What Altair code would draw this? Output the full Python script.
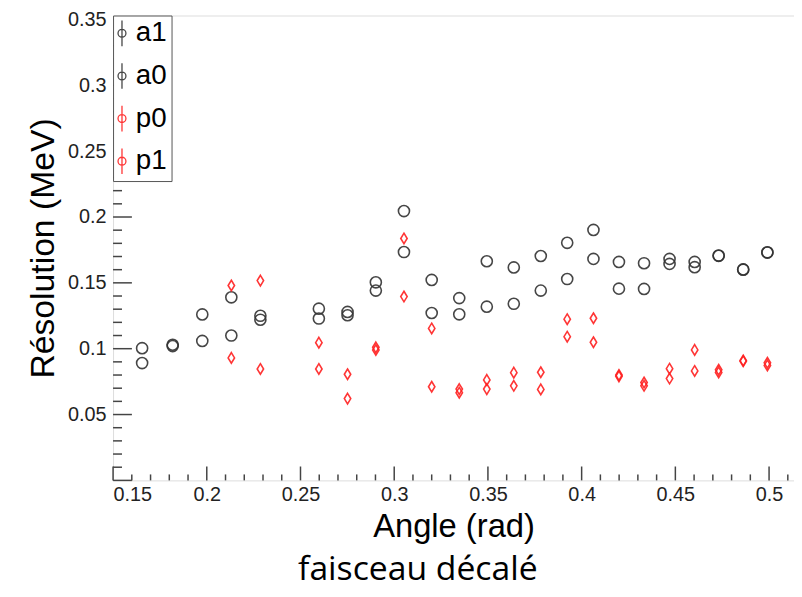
import altair as alt
import pandas as pd
import numpy as np

nan = np.nan
angle = [0.1655, 0.1818, 0.1976, 0.2131, 0.2286, 0.2598, 0.2751, 0.2902, 0.3052, 0.3200,
         0.3347, 0.3494, 0.3638, 0.3782, 0.3923, 0.4063, 0.4199, 0.4333, 0.4469, 0.4603,
         0.4731, 0.4862, 0.4991]
a1 = [0.1004, 0.1030, 0.1260, 0.1390, 0.1250, 0.1304, 0.1279, 0.1504, 0.2045, 0.1522,
      0.1384, 0.1664, 0.1617, 0.1704, 0.1804, 0.1902, 0.1659, 0.1649, 0.1682, 0.1659,
      0.1707, 0.1602, 0.1732]
a0 = [0.0891, 0.1020, 0.1059, 0.1100, 0.1220, 0.1229, 0.1254, 0.1441, 0.1734, 0.1271,
      0.1261, 0.1319, 0.1341, 0.1441, 0.1529, 0.1682, 0.1456, 0.1454, 0.1644, 0.1619,
      0.1705, 0.1600, 0.1730]
p0 = [nan, nan, nan, 0.1480, 0.1517, 0.1046, 0.0806, 0.1010, 0.1837, 0.1154,
      0.0693, 0.0763, 0.0818, 0.0821, 0.1224, 0.1231, 0.0800, 0.0743, 0.0848, 0.0991,
      0.0840, 0.0910, 0.0893]
p1 = [nan, nan, nan, 0.0930, 0.0846, 0.0846, 0.0621, 0.0990, 0.1396, 0.0711,
      0.0666, 0.0693, 0.0718, 0.0691, 0.1091, 0.1049, 0.0790, 0.0718, 0.0773, 0.0831,
      0.0820, 0.0905, 0.0873]

series_names = ["a1", "a0", "p0", "p1"]
series_markers = ["circ", "circ", "diam", "diam"]
series_colors = ["#333333", "#333333", "#ff2020", "#ff2020"]
x_ticks = [0.15, 0.2, 0.25, 0.3, 0.35, 0.4, 0.45, 0.5]
y_ticks = [0.05, 0.1, 0.15, 0.2, 0.25, 0.3, 0.35]

rows = []
for name, mk, vals in zip(series_names, series_markers, [a1, a0, p0, p1]):
    for xv, yv in zip(angle, vals):
        if not np.isnan(yv):
            rows.append({"x": xv, "y": yv, "series": name, "marker": mk})
df = pd.DataFrame(rows)

xmin, xmax = 0.15, 0.5133
ymin, ymax = 0.0, 0.353
W, H = 687, 469

xt = pd.DataFrame({"x": [round(0.15 + 0.01 * i, 3) for i in range(37)]})
xt["major"] = [abs(v * 20 - round(v * 20)) < 1e-6 for v in xt["x"]]
yt = pd.DataFrame({"y": [round(0.01 * i, 3) for i in range(36)]})
yt["major"] = [abs(v * 20 - round(v * 20)) < 1e-6 for v in yt["y"]]
x_major, x_minor = xt[xt["major"]], xt[~xt["major"]]
y_major, y_minor = yt[yt["major"]], yt[~yt["major"]]

font = "Liberation Sans"

x_enc = alt.X("x:Q", scale=alt.Scale(domain=[xmin, xmax], nice=False, zero=False),
              axis=alt.Axis(title="Angle (rad)", values=x_ticks, format="~g", ticks=False,
                            domain=False, grid=False, labelFont=font, labelFontSize=20,
                            labelColor="#222222", labelPadding=4, titleFont=font,
                            titleFontSize=33, titleFontWeight="normal", titleColor="black",
                            titlePadding=7))
y_enc = alt.Y("y:Q", scale=alt.Scale(domain=[ymin, ymax], nice=False, zero=False),
              axis=alt.Axis(title="Résolution (MeV)", values=y_ticks, format="~g", ticks=False,
                            domain=False, grid=False, labelFont=font, labelFontSize=20,
                            labelColor="#222222", labelPadding=7, titleFont=font,
                            titleFontSize=34, titleFontWeight="normal", titleColor="black",
                            titlePadding=7))

# symbol with vertical error bar, drawn at scale sqrt(49)/2 = 3.5 px per unit
legend_path = ("M0,-3.7V3.7M1.14,0A1.14,1.14 0 1,1 -1.14,0A1.14,1.14 0 1,1 1.14,0")
diamond_path = "M0,-0.95L0.58,0L0,0.95L-0.58,0Z"

points = alt.Chart(df).mark_point(filled=False, strokeWidth=1.6, size=125, opacity=0.9).encode(
    x=x_enc,
    y=y_enc,
    color=alt.Color("series:N",
                    scale=alt.Scale(domain=series_names, range=series_colors),
                    legend=alt.Legend(title=None, orient="top-left", offset=0, padding=4,
                                      strokeColor="#555555", fillColor="white",
                                      symbolType=legend_path, symbolSize=49,
                                      symbolOffset=-9,
                                      symbolStrokeWidth=1.3, labelFont=font,
                                      labelFontSize=28, labelColor="black",
                                      labelExpr="datum.label + '\u00a0\u00a0\u00a0'",
                                      labelOffset=0, rowPadding=11, cornerRadius=0)),
    shape=alt.Shape("marker:N",
                    scale=alt.Scale(domain=["circ", "diam"],
                                    range=["circle", diamond_path]),
                    legend=None),
)

tick_style = dict(color="#444444", strokeWidth=1.5)
ytick_major = alt.Chart(y_major).mark_rule(**tick_style).encode(
    y=y_enc, x=alt.value(0), x2=alt.value(19))
ytick_minor = alt.Chart(y_minor).mark_rule(**tick_style).encode(
    y=y_enc, x=alt.value(0), x2=alt.value(9))
xtick_major = alt.Chart(x_major).mark_rule(**tick_style).encode(
    x=x_enc, y=alt.value(H), y2=alt.value(H - 14))
xtick_minor = alt.Chart(x_minor).mark_rule(**tick_style).encode(
    x=x_enc, y=alt.value(H), y2=alt.value(H - 6))

chart = alt.layer(ytick_major, ytick_minor, xtick_major, xtick_minor, points).properties(
    width=W, height=H,
    autosize=alt.AutoSizeParams(type="none"),
    padding={"left": 106, "top": 5, "right": 0, "bottom": 107},
    title=alt.TitleParams("faisceau décalé", orient="bottom", font="Open Sans",
                          fontSize=34, fontWeight="normal", color="black", dx=-36,
                          offset=10),
).configure_view(stroke="#555555", strokeWidth=2).configure(background="white")

chart.save("out.html", embed_options={"renderer": "svg", "actions": False})
